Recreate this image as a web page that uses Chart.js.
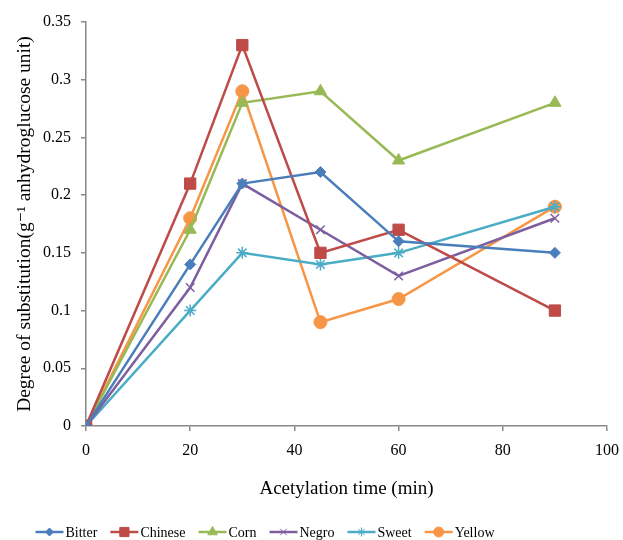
<!DOCTYPE html>
<html>
<head>
<meta charset="utf-8">
<script src="https://cdn.jsdelivr.net/npm/chart.js@4"></script>
<style>
  html, body { margin: 0; padding: 0; background: #fff; }
  #wrap { width: 623px; height: 540px; }
</style>
</head>
<body>
<div id="wrap"><canvas id="c" width="623" height="540"></canvas></div>
<script>
// Acetylation time (min)
const times = [0, 20, 30, 45, 60, 90];

// Degree of substitution per starch source
const bitter  = [0, 0.14, 0.21, 0.22, 0.16, 0.15];
const chinese = [0, 0.21, 0.33, 0.15, 0.17, 0.10];
const corn    = [0, 0.17, 0.28, 0.29, 0.23, 0.28];
const negro   = [0, 0.12, 0.21, 0.17, 0.13, 0.18];
const sweet   = [0, 0.10, 0.15, 0.14, 0.15, 0.19];
const yellow  = [0, 0.18, 0.29, 0.09, 0.11, 0.19];

const seriesNames = ['Bitter', 'Chinese', 'Corn', 'Negro', 'Sweet', 'Yellow'];
const seriesValues = [bitter, chinese, corn, negro, sweet, yellow];

const styles = [
  { color: '#4A7EBB', point: 'rectRot',  radius: 5.5 },
  { color: '#BE4B48', point: 'rect',     radius: 8 },
  { color: '#98B954', point: 'triangle', radius: 7 },
  { color: '#7D5FA0', point: 'crossRot', radius: 6 },
  { color: '#4BACC6', point: 'star',     radius: 6 },
  { color: '#F79646', point: 'circle',   radius: 6.5 }
];

const FONT = "'Liberation Serif', 'DejaVu Serif', serif";

const datasets = seriesNames.map((name, i) => ({
  label: name,
  data: times.map((t, j) => ({ x: t, y: seriesValues[i][j] })),
  borderColor: styles[i].color,
  backgroundColor: styles[i].color,
  borderWidth: 2.5,
  pointStyle: styles[i].point,
  pointRadius: styles[i].radius,
  pointBorderWidth: (styles[i].point === 'crossRot' || styles[i].point === 'star') ? 1.5 : 1,
  pointHoverRadius: styles[i].radius,
  tension: 0
}));

// Legend drawn below the plot: short line with the series marker in its middle
const lineLegend = {
  id: 'lineLegend',
  afterDraw(chart) {
    const ctx = chart.ctx;
    const y = 532;
    const seg = 28, gap = 2, spacing = 13;
    ctx.save();
    ctx.font = '14px ' + FONT;
    const widths = seriesNames.map(n => seg + gap + ctx.measureText(n).width);
    const total = widths.reduce((a, b) => a + b, 0) + spacing * (widths.length - 1);
    let x = 265 - total / 2;
    seriesNames.forEach((name, i) => {
      const st = styles[i];
      ctx.strokeStyle = st.color;
      ctx.lineWidth = 2.5;
      ctx.beginPath();
      ctx.moveTo(x, y);
      ctx.lineTo(x + seg, y);
      ctx.stroke();
      ctx.fillStyle = st.color;
      ctx.lineWidth = 1;
      Chart.helpers.drawPoint(ctx, {
        pointStyle: st.point, radius: st.radius - 1.5, borderWidth: 1.5, rotation: 0
      }, x + seg / 2, y);
      ctx.fillStyle = '#000';
      ctx.textBaseline = 'middle';
      ctx.textAlign = 'left';
      ctx.fillText(name, x + seg + gap, y + 1);
      x += widths[i] + spacing;
    });
    ctx.restore();
  }
};

new Chart(document.getElementById('c'), {
  type: 'line',
  data: { datasets },
  plugins: [lineLegend],
  options: {
    responsive: false,
    animation: false,
    layout: { padding: { left: 0, right: 16, top: 22, bottom: 34 } },
    plugins: {
      legend: { display: false },
      tooltip: { enabled: false }
    },
    scales: {
      x: {
        type: 'linear',
        min: 0, max: 100,
        ticks: { stepSize: 20, color: '#000', font: { family: FONT, size: 16 }, padding: 10 },
        grid: { drawOnChartArea: false, drawTicks: true, tickLength: 5, color: '#888', lineWidth: 1.5 },
        border: { color: '#888', width: 1.5 },
        title: {
          display: true, text: 'Acetylation time (min)', color: '#000',
          font: { family: FONT, size: 19 }, padding: { top: 0, bottom: 6 }
        },
        afterFit(scale) {
          scale.height = 80;
          scale.paddingLeft = 0;
          scale.paddingRight = 0;
        }
      },
      y: {
        min: 0, max: 0.35,
        ticks: {
          stepSize: 0.05, color: '#000', font: { family: FONT, size: 16 }, padding: 10,
          callback: v => String(Number(v.toFixed(2)))
        },
        grid: { drawOnChartArea: false, drawTicks: true, tickLength: 5, color: '#888', lineWidth: 1.5 },
        border: { color: '#888', width: 1.5 },
        title: {
          display: true, text: 'Degree of substitution(g\u207B\u00B9 anhydroglucose unit)', color: '#000',
          font: { family: FONT, size: 19.5 }, padding: { top: 13, bottom: 0 }
        },
        afterFit(scale) { scale.width = 86; }
      }
    }
  }
});
</script>
</body>
</html>
